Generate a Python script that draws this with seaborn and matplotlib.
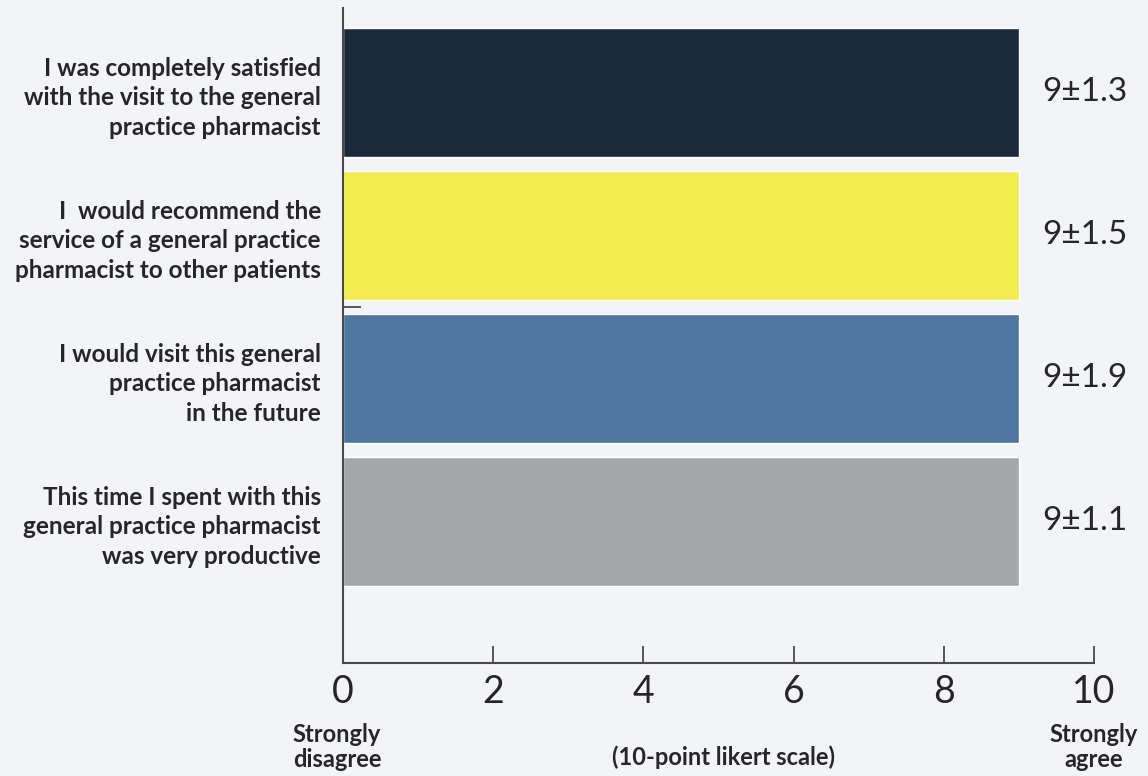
import matplotlib
matplotlib.use("Agg")
import matplotlib.pyplot as plt
import seaborn as sns
import pandas as pd
from matplotlib.ticker import FixedLocator

# Survey statements, mean scores and spread
statements = [
    "I was completely satisfied\nwith the visit to the general\npractice pharmacist",
    "I  would recommend the\nservice of a general practice\npharmacist to other patients",
    "I would visit this general\npractice pharmacist\nin the future",
    "This time I spent with this\ngeneral practice pharmacist\nwas very productive",
]
means = [9, 9, 9, 9]
sds = [1.3, 1.5, 1.9, 1.1]
bar_colors = ["#1a2a3b", "#f2ec4e", "#4f76a0", "#a4a7aa"]
x_ticks = [0, 2, 4, 6, 8, 10]

bg = "#f3f4f8"
ink = "#262626"
axis_color = "#4a4a4a"

sns.set_theme(style="white")
plt.rcParams["font.family"] = ["Lato", "DejaVu Sans"]

df = pd.DataFrame({"statement": statements, "mean": means})

fig = plt.figure(figsize=(11.48, 7.76), dpi=100, facecolor=bg)
ax = fig.add_axes([0.2988, 0.1456, 0.6542, 0.8441])
ax.set_facecolor(bg)

sns.barplot(
    data=df, x="mean", y="statement", hue="statement",
    palette=bar_colors, orient="h", width=0.9, legend=False,
    saturation=1, ax=ax,
)

ax.set_xlim(0, 10)
ax.set_ylim(3.99, -0.59)

# value labels to the right of each bar
for i, (m, s) in enumerate(zip(means, sds)):
    ax.text(m + 0.31, i, f"{m}\u00b1{s}", ha="left", va="center",
            fontsize=24, color=ink, clip_on=False)

ax.set_xticks(x_ticks)
ax.set_xticklabels([str(t) for t in x_ticks], fontsize=27, color=ink)
ax.tick_params(axis="x", bottom=True, direction="in", length=12, width=1.3,
               color=axis_color, pad=8)
ax.set_yticks(range(len(statements)))
ax.set_yticklabels(statements, fontsize=17.5, fontweight="bold",
                   color=ink, linespacing=1.35)
ax.tick_params(axis="y", which="major", left=False, length=0, pad=16)
ax.yaxis.set_minor_locator(FixedLocator([1.5]))
ax.tick_params(axis="y", which="minor", left=True, direction="in",
               length=13, width=1.3, color=axis_color)

ax.set_xlabel("")
ax.set_ylabel("")
for side in ["top", "right"]:
    ax.spines[side].set_visible(False)
for side in ["left", "bottom"]:
    ax.spines[side].set_color(axis_color)
    ax.spines[side].set_linewidth(1.5)

# scale annotations below the axis
fig.text(337 / 1148, 1 - 747 / 776, "Strongly\ndisagree", ha="center",
         va="center", fontsize=17, fontweight="bold", color=ink,
         linespacing=1.15)
fig.text(1094 / 1148, 1 - 747 / 776, "Strongly\nagree", ha="center",
         va="center", fontsize=17, fontweight="bold", color=ink,
         linespacing=1.15)
fig.text(724 / 1148, 1 - 757 / 776, "(10-point likert scale)", ha="center",
         va="center", fontsize=17, fontweight="bold", color=ink)

fig.savefig("out.png", dpi=100, facecolor=bg)
